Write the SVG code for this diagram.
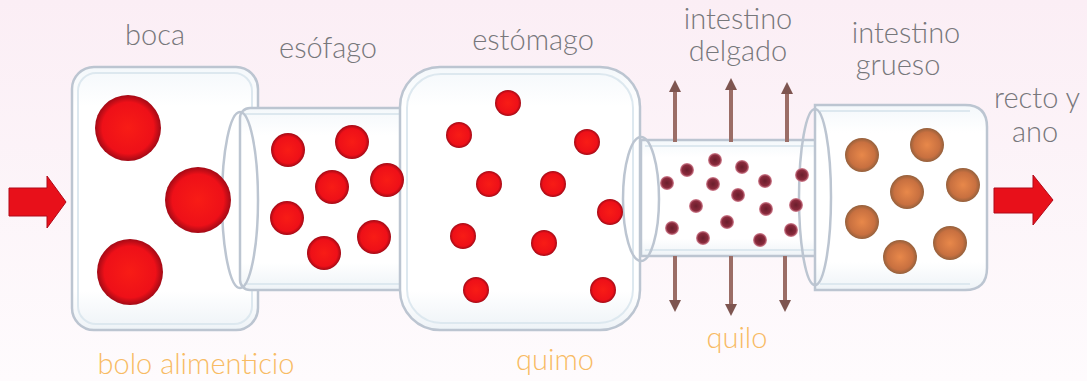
<svg xmlns="http://www.w3.org/2000/svg" width="1087" height="381" viewBox="0 0 1087 381">
<defs>
<linearGradient id="bg" x1="0" y1="0" x2="0" y2="1">
<stop offset="0" stop-color="#fbeef5"/>
<stop offset="1" stop-color="#fefbfd"/>
</linearGradient>
<linearGradient id="tube" x1="0" y1="0" x2="0" y2="1">
<stop offset="0" stop-color="#f4f8fb"/>
<stop offset="0.15" stop-color="#ffffff"/>
<stop offset="0.85" stop-color="#ffffff"/>
<stop offset="1" stop-color="#eef3f7"/>
</linearGradient>
<radialGradient id="red" cx="0.5" cy="0.5" r="0.5">
<stop offset="0" stop-color="#f81c16"/>
<stop offset="0.78" stop-color="#ee1018"/>
<stop offset="1" stop-color="#a20a16"/>
</radialGradient>
<radialGradient id="maroon" cx="0.5" cy="0.5" r="0.5">
<stop offset="0" stop-color="#6a1e2c"/>
<stop offset="0.7" stop-color="#8a2a3c"/>
<stop offset="1" stop-color="#d88a9a"/>
</radialGradient>
<radialGradient id="brown" cx="0.5" cy="0.5" r="0.5">
<stop offset="0" stop-color="#e8884a"/>
<stop offset="0.75" stop-color="#c87040"/>
<stop offset="1" stop-color="#94603c"/>
</radialGradient>
<marker id="ah" viewBox="0 0 10 10" refX="5" refY="5" markerWidth="3" markerHeight="3" orient="auto">
<path d="M0,0 L10,5 L0,10 z" fill="#7e5550"/>
</marker>
</defs>
<style>
.tube{fill:url(#tube);stroke:#bcc5d1;stroke-width:2.5}
.inner{fill:none;stroke:#dde8ef;stroke-width:2}
.rim{fill:none;stroke:#bcc5d1;stroke-width:2.5}
.lbl{font-family:Lato,"Liberation Sans",sans-serif;font-weight:300;font-size:29px;fill:#77777b;text-anchor:middle}
.olbl{font-family:Lato,"Liberation Sans",sans-serif;font-weight:300;font-size:29px;fill:#f8bb64;text-anchor:middle}
.red{fill:url(#red)}
.dot{fill:url(#maroon)}
.brn{fill:url(#brown)}
.flow{stroke:#9b6d66;stroke-width:4;fill:none;marker-end:url(#ah)}
.big{fill:#e8101a;stroke:#b00818;stroke-width:1}
</style>
<rect x="0" y="0" width="1087" height="381" fill="url(#bg)"/>

<g id="boca">
<rect class="tube" x="72" y="67" width="186" height="263" rx="22"/>
<rect class="inner" x="78" y="73" width="174" height="251" rx="18"/>
</g>

<g id="esofago">
<rect class="tube" x="240" y="108" width="175" height="182" rx="10"/>
<line x1="244" y1="114" x2="412" y2="114" class="inner"/>
<line x1="244" y1="284" x2="412" y2="284" class="inner"/>
<ellipse class="rim" cx="240" cy="200" rx="18" ry="88"/>
</g>

<g id="estomago">
<rect class="tube" x="400" y="67" width="240" height="263" rx="40"/>
<rect class="inner" x="407" y="74" width="226" height="249" rx="34"/>
</g>

<g id="intestino-delgado">
<rect class="tube" x="641" y="140" width="176" height="116"/>
<line x1="645" y1="146" x2="815" y2="146" class="inner"/>
<line x1="645" y1="250" x2="815" y2="250" class="inner"/>
<ellipse class="rim" cx="641" cy="199" rx="18" ry="62"/>
</g>

<g id="intestino-grueso">
<path class="tube" d="M815,105 H965 Q987,105 987,127 V268 Q987,290 965,290 H815 Z"/>
<line x1="820" y1="111" x2="970" y2="111" class="inner"/>
<line x1="820" y1="284" x2="970" y2="284" class="inner"/>
<ellipse class="rim" cx="815" cy="197" rx="16" ry="88"/>
</g>

<g id="particulas-boca">
<circle class="red" cx="128" cy="128" r="33"/>
<circle class="red" cx="198" cy="200" r="33"/>
<circle class="red" cx="130" cy="272" r="33"/>
</g>
<g id="particulas-esofago">
<circle class="red" cx="288" cy="150" r="17"/>
<circle class="red" cx="352" cy="142" r="17"/>
<circle class="red" cx="332" cy="187" r="17"/>
<circle class="red" cx="387" cy="180" r="17"/>
<circle class="red" cx="287" cy="218" r="17"/>
<circle class="red" cx="374" cy="237" r="17"/>
<circle class="red" cx="324" cy="253" r="17"/>
</g>
<g id="particulas-estomago">
<circle class="red" cx="508" cy="103" r="13"/>
<circle class="red" cx="459" cy="135" r="13"/>
<circle class="red" cx="587" cy="142" r="13"/>
<circle class="red" cx="489" cy="184" r="13"/>
<circle class="red" cx="553" cy="184" r="13"/>
<circle class="red" cx="610" cy="212" r="13"/>
<circle class="red" cx="463" cy="236" r="13"/>
<circle class="red" cx="544" cy="243" r="13"/>
<circle class="red" cx="476" cy="290" r="13"/>
<circle class="red" cx="603" cy="290" r="13"/>
</g>
<g id="particulas-delgado">
<circle class="dot" cx="715" cy="160" r="7"/>
<circle class="dot" cx="687" cy="170" r="7"/>
<circle class="dot" cx="742" cy="167" r="7"/>
<circle class="dot" cx="667" cy="183" r="7"/>
<circle class="dot" cx="713" cy="184" r="7"/>
<circle class="dot" cx="765" cy="181" r="7"/>
<circle class="dot" cx="802" cy="175" r="7"/>
<circle class="dot" cx="738" cy="195" r="7"/>
<circle class="dot" cx="696" cy="206" r="7"/>
<circle class="dot" cx="766" cy="209" r="7"/>
<circle class="dot" cx="796" cy="205" r="7"/>
<circle class="dot" cx="727" cy="222" r="7"/>
<circle class="dot" cx="672" cy="228" r="7"/>
<circle class="dot" cx="791" cy="230" r="7"/>
<circle class="dot" cx="703" cy="238" r="7"/>
<circle class="dot" cx="760" cy="240" r="7"/>
</g>
<g id="particulas-grueso">
<circle class="brn" cx="862" cy="155" r="17"/>
<circle class="brn" cx="927" cy="145" r="17"/>
<circle class="brn" cx="907" cy="192" r="17"/>
<circle class="brn" cx="963" cy="185" r="17"/>
<circle class="brn" cx="862" cy="222" r="17"/>
<circle class="brn" cx="950" cy="243" r="17"/>
<circle class="brn" cx="900" cy="257" r="17"/>
</g>

<g id="conectores">
<path class="big" d="M9,188 H47 V176 L66,202 L47,228 V216 H9 Z"/>
<path class="big" d="M994,188 H1033 V175 L1053,200 L1033,225 V213 H994 Z"/>
<line class="flow" x1="675" y1="142" x2="675" y2="86"/>
<line class="flow" x1="731" y1="142" x2="731" y2="84"/>
<line class="flow" x1="787" y1="142" x2="787" y2="88"/>
<line class="flow" x1="675" y1="256" x2="675" y2="306"/>
<line class="flow" x1="731" y1="256" x2="731" y2="310"/>
<line class="flow" x1="785" y1="256" x2="785" y2="306"/>
</g>

<g id="etiquetas">
<text class="lbl" x="155" y="45">boca</text>
<text class="lbl" x="328" y="58">esófago</text>
<text class="lbl" x="533" y="50">estómago</text>
<text class="lbl" x="738" y="29">intestino</text>
<text class="lbl" x="738" y="61">delgado</text>
<text class="lbl" x="906" y="43">intestino</text>
<text class="lbl" x="898" y="75">grueso</text>
<text class="lbl" x="1037" y="108">recto y</text>
<text class="lbl" x="1035" y="142">ano</text>
<text class="olbl" x="196" y="374">bolo alimenticio</text>
<text class="olbl" x="555" y="370">quimo</text>
<text class="olbl" x="737" y="348">quilo</text>
</g>
</svg>
